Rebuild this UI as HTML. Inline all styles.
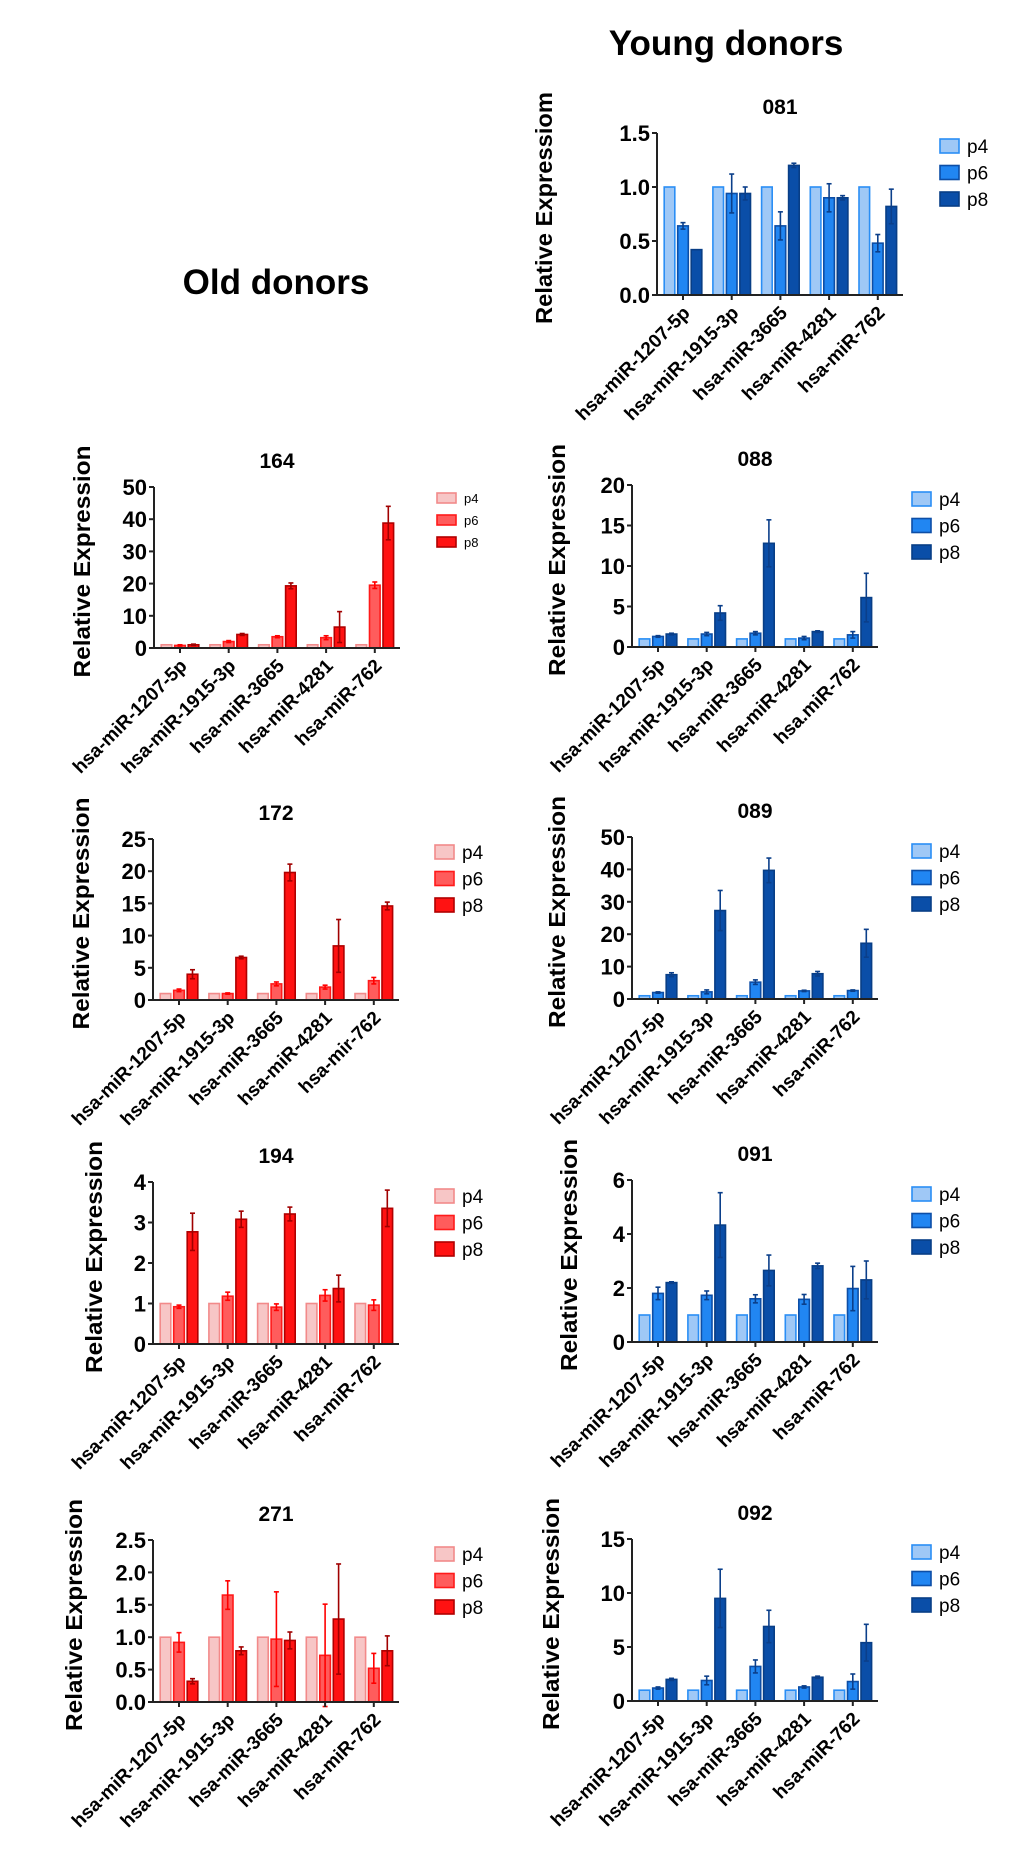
<!DOCTYPE html>
<html><head><meta charset="utf-8">
<style>
html,body{margin:0;padding:0;background:#fff;}
svg{display:block;font-family:"Liberation Sans",Arial,sans-serif;}
</style></head>
<body>
<svg id="fig" width="1020" height="1876" viewBox="0 0 1020 1876" xmlns="http://www.w3.org/2000/svg">
<text x="726" y="55" font-size="35" font-weight="bold" text-anchor="middle">Young donors</text>
<text x="276" y="294" font-size="35" font-weight="bold" text-anchor="middle">Old donors</text>
</svg>
<script>
// ---- data ----
const categories = ["hsa-miR-1207-5p","hsa-miR-1915-3p","hsa-miR-3665","hsa-miR-4281","hsa-miR-762"];
const series = ["p4","p6","p8"];
const p4Values = [1,1,1,1,1];

const c081_p6 = [0.64,0.94,0.64,0.90,0.48];
const c081_p6err = [0.03,0.18,0.13,0.13,0.08];
const c081_p8 = [0.42,0.94,1.20,0.90,0.82];
const c081_p8err = [0,0.06,0.02,0.02,0.16];
const c081_ticks = ["0.0","0.5","1.0","1.5"];

const c164_p6 = [0.8,2.0,3.5,3.2,19.5];
const c164_p6err = [0.2,0.3,0.3,0.6,1.0];
const c164_p8 = [1.0,4.2,19.3,6.5,38.8];
const c164_p8err = [0.2,0.3,0.9,4.8,5.2];
const c164_ticks = ["0","10","20","30","40","50"];

const c088_p6 = [1.3,1.6,1.7,1.1,1.5];
const c088_p6err = [0.1,0.2,0.2,0.2,0.4];
const c088_p8 = [1.6,4.2,12.8,1.9,6.1];
const c088_p8err = [0.1,0.9,2.9,0.1,3.0];
const c088_ticks = ["0","5","10","15","20"];

const c172_p6 = [1.5,1.0,2.5,2.0,3.0];
const c172_p6err = [0.2,0.1,0.3,0.3,0.5];
const c172_p8 = [4.0,6.6,19.8,8.4,14.6];
const c172_p8err = [0.7,0.2,1.3,4.1,0.6];
const c172_ticks = ["0","5","10","15","20","25"];

const c089_p6 = [2.0,2.2,5.2,2.5,2.6];
const c089_p6err = [0.2,0.6,0.7,0.2,0.2];
const c089_p8 = [7.5,27.3,39.7,7.8,17.2];
const c089_p8err = [0.6,6.2,3.8,0.7,4.3];
const c089_ticks = ["0","10","20","30","40","50"];

const c194_p6 = [0.92,1.18,0.91,1.20,0.96];
const c194_p6err = [0.04,0.10,0.08,0.14,0.13];
const c194_p8 = [2.77,3.08,3.21,1.37,3.35];
const c194_p8err = [0.46,0.20,0.17,0.33,0.45];
const c194_ticks = ["0","1","2","3","4"];

const c091_p6 = [1.80,1.73,1.60,1.58,1.98];
const c091_p6err = [0.23,0.16,0.15,0.18,0.82];
const c091_p8 = [2.20,4.33,2.65,2.82,2.30];
const c091_p8err = [0.03,1.20,0.57,0.10,0.70];
const c091_ticks = ["0","2","4","6"];

const c271_p6 = [0.92,1.65,0.97,0.72,0.52];
const c271_p6err = [0.15,0.22,0.73,0.79,0.23];
const c271_p8 = [0.32,0.79,0.95,1.28,0.79];
const c271_p8err = [0.04,0.06,0.13,0.85,0.23];
const c271_ticks = ["0.0","0.5","1.0","1.5","2.0","2.5"];

const c092_p6 = [1.2,1.9,3.2,1.3,1.8];
const c092_p6err = [0.1,0.4,0.6,0.1,0.7];
const c092_p8 = [2.0,9.5,6.9,2.2,5.4];
const c092_p8err = [0.1,2.7,1.5,0.1,1.7];
const c092_ticks = ["0","5","10","15"];

// ---- drawing ----
const NS = "http://www.w3.org/2000/svg";
const svg = document.getElementById("fig");
const BLUE = {fill:["#9fc8f6","#2186f2","#0a4ea8"],stroke:["#2a8ef5","#0d4ea6","#083e86"],err:["#0b3f8a","#0b3f8a","#0b3f8a"]};
const RED = {fill:["#f7c6c6","#ff5c5c","#ff1212"],stroke:["#f28a8a","#ff1a1a","#b00000"],err:["#ff0000","#ff0000","#a00000"]};

function mk(tag, attrs, parent){
  const e = document.createElementNS(NS, tag);
  for (const k in attrs) e.setAttribute(k, attrs[k]);
  (parent||svg).appendChild(e);
  return e;
}

function drawChart(cfg){
  const g = mk("g", {});
  
  
  const x0 = cfg.x0, yTop = cfg.yTop, yBot = cfg.yBot, w = 246;
  const ymax = parseFloat(cfg.ticks[cfg.ticks.length-1]);
  const yS = v => yBot - (v/ymax)*(yBot-yTop);
  const gx = i => x0 + 26 + i*48.7;
  const pal = cfg.pal;

  const t = mk("text", {x: x0+123, y: yTop-19, "font-size":21, "font-weight":"bold", "text-anchor":"middle"}, g);
  t.textContent = cfg.id;
  
  

  const yl = mk("text", {x:0, y:0, "font-size":23, "font-weight":"bold", "text-anchor":"middle",
    transform:"translate(" + cfg.ylx + "," + ((yTop+yBot)/2 - 6) + ") rotate(-90)", textLength:232, lengthAdjust:"spacingAndGlyphs"}, g);
  yl.textContent = cfg.ylabel || "Relative Expression";
  
  

  const vals = [p4Values, cfg.p6, cfg.p8];
  const errs = [null, cfg.p6err, cfg.p8err];
  const off = [-13.5, 0, 13.5];
  for (let s=0; s<3; s++){
    for (let i=0; i<categories.length; i++){
      const v = vals[s][i];
      const cx = gx(i) + off[s];
      const r = mk("rect", {x: cx-5.3, y: yS(v), width: 10.6, height: yBot - yS(v), fill: pal.fill[s], stroke: pal.stroke[s], "stroke-width":1.6}, g);
      
      
      if (errs[s]){
        const e = errs[s][i];
        if (e > 0){
          const eg = mk("g", {stroke: pal.err[s], "stroke-width":1.6}, g);
          
          
          mk("line", {x1:cx, x2:cx, y1:yS(v+e), y2:yS(v-e)}, eg);
          mk("line", {x1:cx-2.5, x2:cx+2.5, y1:yS(v+e), y2:yS(v+e)}, eg);
          mk("line", {x1:cx-2.5, x2:cx+2.5, y1:yS(v-e), y2:yS(v-e)}, eg);
        }
      }
    }
  }

  const ax = mk("path", {d: "M" + x0 + "," + yTop + " V" + yBot + " H" + (x0+w), fill:"none", stroke:"#222", "stroke-width":2}, g);
  
  
  cfg.ticks.forEach(tv => {
    const y = yS(parseFloat(tv));
    mk("line", {x1:x0-5, x2:x0, y1:y, y2:y, stroke:"#222", "stroke-width":2}, g);
    const tl = mk("text", {x:x0-7, y:y+8, "font-size":22, "font-weight":"bold", "text-anchor":"end"}, g);
    tl.textContent = tv;
    
    
  });
  const cats = cfg.cats || categories;
  cats.forEach((c,i) => {
    const x = gx(i);
    mk("line", {x1:x, x2:x, y1:yBot, y2:yBot+5, stroke:"#222", "stroke-width":2}, g);
    const cl = mk("text", {x:0, y:0, "font-size":19, "font-weight":"bold", "text-anchor":"end",
      transform:"translate(" + (x+8) + "," + (yBot+19) + ") rotate(-45)"}, g);
    cl.textContent = c;
    
    
  });

  const small = cfg.smallLegend;
  series.forEach((s, k) => {
    const ly = cfg.legY + k*(small ? 22 : 26.5);
    const sw = mk("rect", {x: cfg.legX, y: ly-(small?5:7), width: 19, height: small?10:14, fill: pal.fill[k], stroke: pal.stroke[k], "stroke-width":1.6}, g);
    
    
    const lt = mk("text", {x: cfg.legX+27, y: ly+(small?5:7), "font-size": small?13:19}, g);
    lt.textContent = s;
    
    
  });
}

drawChart({id:"081", x0:657, yTop:133, yBot:295, ticks:c081_ticks, p6:c081_p6, p6err:c081_p6err, p8:c081_p8, p8err:c081_p8err, pal:BLUE, ylx:552, legX:940, legY:146, ylabel:"Relative Expressiom"});
drawChart({id:"164", x0:154, yTop:487, yBot:648, ticks:c164_ticks, p6:c164_p6, p6err:c164_p6err, p8:c164_p8, p8err:c164_p8err, pal:RED, ylx:90, legX:437, legY:498, smallLegend:true});
drawChart({id:"088", x0:632, yTop:485, yBot:647, ticks:c088_ticks, p6:c088_p6, p6err:c088_p6err, p8:c088_p8, p8err:c088_p8err, pal:BLUE, ylx:565, legX:912, legY:499,
  cats:["hsa-miR-1207-5p","hsa-miR-1915-3p","hsa-miR-3665","hsa-miR-4281","hsa.miR-762"]});
drawChart({id:"172", x0:153, yTop:839, yBot:1000, ticks:c172_ticks, p6:c172_p6, p6err:c172_p6err, p8:c172_p8, p8err:c172_p8err, pal:RED, ylx:89, legX:435, legY:852,
  cats:["hsa-miR-1207-5p","hsa-miR-1915-3p","hsa-miR-3665","hsa-miR-4281","hsa-mir-762"]});
drawChart({id:"089", x0:632, yTop:837, yBot:999, ticks:c089_ticks, p6:c089_p6, p6err:c089_p6err, p8:c089_p8, p8err:c089_p8err, pal:BLUE, ylx:565, legX:912, legY:851});
drawChart({id:"194", x0:153, yTop:1182, yBot:1344, ticks:c194_ticks, p6:c194_p6, p6err:c194_p6err, p8:c194_p8, p8err:c194_p8err, pal:RED, ylx:102, legX:435, legY:1196});
drawChart({id:"091", x0:632, yTop:1180, yBot:1342, ticks:c091_ticks, p6:c091_p6, p6err:c091_p6err, p8:c091_p8, p8err:c091_p8err, pal:BLUE, ylx:577, legX:912, legY:1194});
drawChart({id:"271", x0:153, yTop:1540, yBot:1702, ticks:c271_ticks, p6:c271_p6, p6err:c271_p6err, p8:c271_p8, p8err:c271_p8err, pal:RED, ylx:82, legX:435, legY:1554});
drawChart({id:"092", x0:632, yTop:1539, yBot:1701, ticks:c092_ticks, p6:c092_p6, p6err:c092_p6err, p8:c092_p8, p8err:c092_p8err, pal:BLUE, ylx:559, legX:912, legY:1552});
</script>
</body></html>
